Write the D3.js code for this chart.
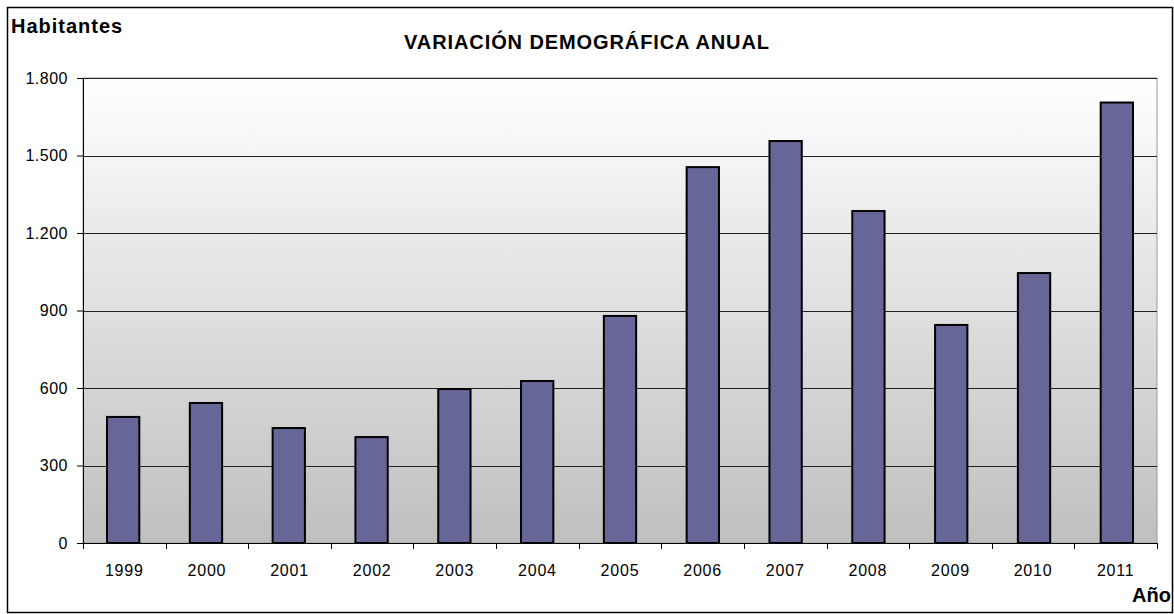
<!DOCTYPE html>
<html><head><meta charset="utf-8">
<script src="https://cdn.jsdelivr.net/npm/d3@7"></script>
<style>body{margin:0;background:#fff}svg{display:block}text{font-family:"Liberation Sans",Arial,sans-serif}</style>
</head><body><svg id="c" width="1174" height="614"></svg>
<script>
const years = ["1999","2000","2001","2002","2003","2004","2005","2006","2007","2008","2009","2010","2011"];
const values = [488,542,445,410,596,627,879,1455,1556,1285,844,1045,1705];
const yTicks = [0,300,600,900,1200,1500,1800];
const yTickLabels = ["0","300","600","900","1.200","1.500","1.800"];

const svg = d3.select("#c");
const L=83,R=1157,T=78,B=543;
const x = d3.scaleBand().domain(years).range([L,R]).paddingInner(0.61).paddingOuter(0.29);
const xb = d3.scaleBand().domain(years).range([L,R]);
const y = d3.scaleLinear().domain([0,1800]).range([B,T]);

svg.append("rect").attr("x",7.5).attr("y",7.5).attr("width",1165).attr("height",605).attr("fill","#fff").attr("stroke","#000").attr("stroke-width",1.5);

const defs=svg.append("defs");
const g=defs.append("linearGradient").attr("id","bg").attr("x1",0).attr("y1",0).attr("x2",0).attr("y2",1);
g.append("stop").attr("offset","0%").attr("stop-color","#ffffff");
g.append("stop").attr("offset","100%").attr("stop-color","#bfbfbf");
svg.append("rect").attr("x",L).attr("y",T).attr("width",R-L).attr("height",B-T).attr("fill","url(#bg)").attr("stroke","#999");

svg.append("g").selectAll("line").data(yTicks.slice(1)).join("line")
 .attr("x1",L).attr("x2",R).attr("y1",d=>Math.round(y(d))+0.5).attr("y2",d=>Math.round(y(d))+0.5)
 .attr("stroke","#222").attr("stroke-width",1);

svg.append("g").selectAll("rect").data(years).join("rect")
 .attr("x",(d)=>x(d)).attr("width",x.bandwidth())
 .attr("y",(d,i)=>y(values[i])).attr("height",(d,i)=>B-y(values[i]))
 .attr("fill","#666699").attr("stroke","#000").attr("stroke-width",2);

const yAxis = d3.axisLeft(y).tickValues(yTicks).tickFormat((d,i)=>yTickLabels[i]).tickSize(6).tickPadding(9);
const ya=svg.append("g").attr("transform",`translate(${L},0)`).call(yAxis);
ya.select(".domain").attr("stroke","#000").attr("d",`M0.5,${T}V${B}`);
ya.selectAll("text").attr("font-size",16).attr("fill","#000").style("letter-spacing","0.5px").style("font-family","'Liberation Sans',Arial,sans-serif");

const bounds = years.map(d=>xb(d)).concat([R]);
svg.append("g").selectAll("line").data(bounds).join("line")
 .attr("x1",d=>Math.round(d)+0.5).attr("x2",d=>Math.round(d)+0.5).attr("y1",B).attr("y2",B+6).attr("stroke","#000");
svg.append("line").attr("x1",L).attr("x2",R).attr("y1",B+0.5).attr("y2",B+0.5).attr("stroke","#000");
svg.append("g").selectAll("text").data(years).join("text")
 .attr("x",d=>xb(d)+xb.bandwidth()/2).attr("y",576).attr("text-anchor","middle").attr("font-size",16).style("letter-spacing","0.8px").text(d=>d);

svg.append("text").attr("x",11).attr("y",33).attr("font-size",20).attr("font-weight","bold").style("letter-spacing","1px").text("Habitantes");
svg.append("text").attr("x",587).attr("y",49).attr("text-anchor","middle").attr("font-size",20).attr("font-weight","bold").style("letter-spacing","0.9px").text("VARIACIÓN DEMOGRÁFICA ANUAL");
svg.append("text").attr("x",1171).attr("y",602).attr("text-anchor","end").attr("font-size",20).attr("font-weight","bold").text("Año");
</script></body></html>
